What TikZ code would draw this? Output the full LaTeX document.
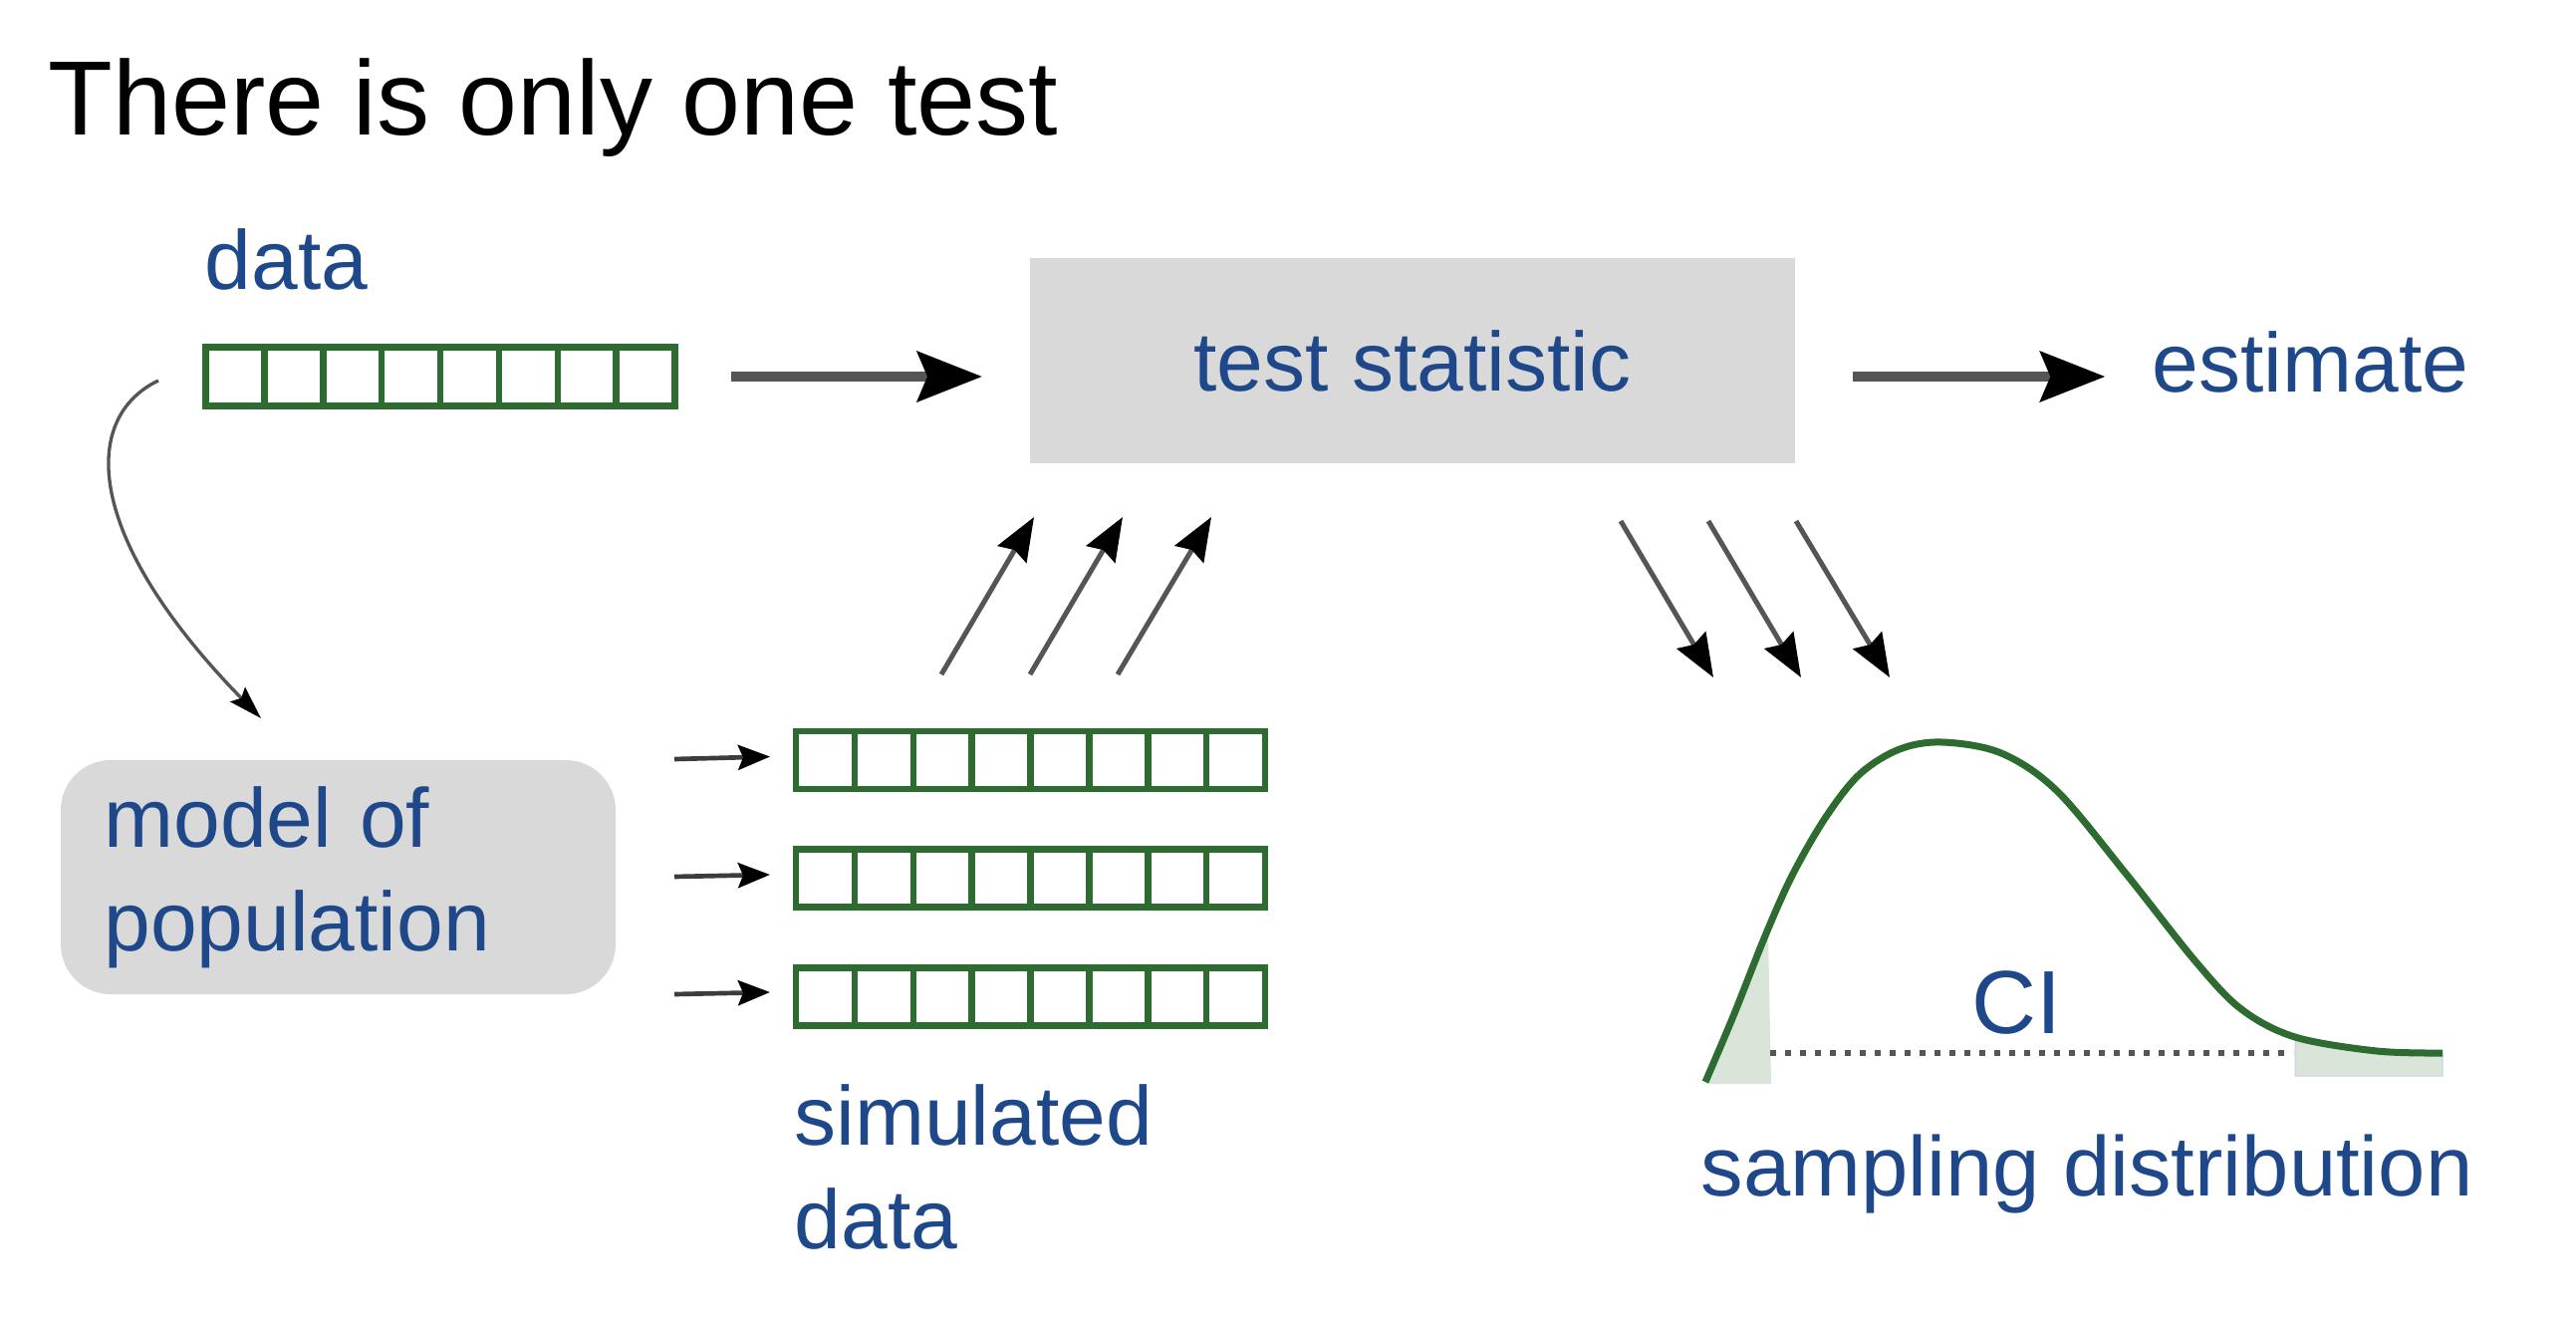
\documentclass[tikz,border=0pt]{standalone}
\usepackage{fontspec}
\setmainfont{Liberation Sans}
\usetikzlibrary{arrows.meta,calc}
\definecolor{tblue}{RGB}{30,72,138}
\definecolor{bargreen}{RGB}{46,107,48}
\definecolor{boxgray}{RGB}{217,217,217}
\definecolor{shaftgray}{RGB}{85,85,85}
\definecolor{tailfill}{RGB}{217,229,217}
\definecolor{tailedge}{RGB}{200,205,240}
\newcommand\bardividers[1]{%
  \foreach \k in {1,...,7}{%
    \draw[bargreen, line width=1.95pt] ($(#1.south west)!\k/8!(#1.south east)$) -- ($(#1.north west)!\k/8!(#1.north east)$);}}
\begin{document}
\begin{tikzpicture}[x=0.3pt,y=-0.3pt,
  lbl/.style={text=tblue, font=\fontsize{25.2}{31.2}\selectfont, inner sep=0pt},
  cellbar/.style={draw=bargreen, line width=1.95pt, minimum width=141.3pt, minimum height=17.7pt, inner sep=0pt, outer sep=0pt},
  bigarrow/.style={draw=shaftgray, line width=3pt, -{Stealth[length=19.5pt,width=15pt,inset=3pt,black]}},
  midarrow/.style={draw=shaftgray, line width=1.5pt, -{Stealth[length=13pt,width=10pt,inset=1.5pt,black]}},
  smallarrow/.style={draw=shaftgray!70!black, line width=1.4pt, -{Stealth[length=9.6pt,width=7.5pt,inset=1.5pt,black]}},
  curvearrow/.style={draw=shaftgray, line width=1pt, -{Stealth[length=10pt,width=6.2pt,inset=1.5pt,black]}},
  graybox/.style={fill=boxgray, inner sep=0pt, outer sep=0pt, text=tblue, font=\fontsize{25.2}{31.2}\selectfont},
]
\useasboundingbox (0,0) rectangle (2586,1324);

% title
\node[anchor=base west, inner sep=0pt, font=\fontsize{31.8}{38}\selectfont] (title) at (48,135) {There is only one test};

% data
\node[lbl, anchor=base west] (datalbl) at (205,290) {data};
\node[cellbar] (databar) at (442,378) {};
\bardividers{databar}

% test statistic
\node[graybox, minimum width=230.4pt, minimum height=61.8pt] (tstat) at (1418,362) {test statistic};
\node[lbl, anchor=base west] (est) at (2160,393) {estimate};

\draw[bigarrow, shorten <=17pt, shorten >=14.4pt] (databar.east) -- (databar.east -| tstat.west);
\draw[bigarrow, shorten <=17.4pt, shorten >=14pt] (databar.east -| tstat.east) -- (databar.east -| est.west);

% model of population
\node[graybox, rounded corners=15pt, text width=141.1pt, inner xsep=13pt, minimum height=70.5pt, align=left] (model) at (339.5,880.5) {model of\\population};

\coordinate (cstart) at (159,382);
\coordinate (cend) at (262,721);
\draw[curvearrow] (cstart) .. controls (80,420) and (85,540) .. (cend);

% simulated data
\node[cellbar, minimum height=17.4pt] (simbar1) at (1034.5,763) {};
\node[cellbar, minimum height=17.4pt] (simbar2) at (1034.5,881.5) {};
\node[cellbar, minimum height=17.4pt] (simbar3) at (1034.5,1000.5) {};
\bardividers{simbar1}
\bardividers{simbar2}
\bardividers{simbar3}
\node[lbl, align=left, anchor=north west] (simlbl) at (797,1088) {simulated\\data};

\coordinate (s1) at (677,762);
\coordinate (s2) at (677,880);
\coordinate (s3) at (677,998);
\draw[smallarrow] (s1) -- ($(simbar1.west)+(-26,-3.5)$);
\draw[smallarrow] (s2) -- ($(simbar2.west)+(-26,-3.5)$);
\draw[smallarrow] (s3) -- ($(simbar3.west)+(-26,-4.5)$);

% arrows up
\coordinate (u1a) at (945,677);  \coordinate (u1b) at (1038,519);
\coordinate (u2a) at (1034,677); \coordinate (u2b) at (1127,519);
\coordinate (u3a) at (1122,677); \coordinate (u3b) at (1216,519);
\draw[midarrow] (u1a) -- (u1b);
\draw[midarrow] (u2a) -- (u2b);
\draw[midarrow] (u3a) -- (u3b);

% arrows down
\coordinate (d1a) at (1627,523); \coordinate (d1b) at (1720,680);
\coordinate (d2a) at (1715,523); \coordinate (d2b) at (1808,680);
\coordinate (d3a) at (1803,523); \coordinate (d3b) at (1897,680);
\draw[midarrow] (d1a) -- (d1b);
\draw[midarrow] (d2a) -- (d2b);
\draw[midarrow] (d3a) -- (d3b);

% sampling distribution
\fill[tailfill] (1712,1088) -- (1740,1020) -- (1775,936) -- (1778,1088) -- cycle;
\filldraw[fill=tailfill, draw=tailedge, line width=0.3pt] (2304,1041) .. controls (2340,1052) and (2400,1057) .. (2452,1057) -- (2452,1080) -- (2304,1080) -- cycle;
\coordinate (ci1) at (1777,1057);
\coordinate (ci2) at (2302,1057);
\draw[shaftgray, line width=1.8pt, dash pattern=on 1.8pt off 2.7pt] (ci1) -- (ci2);
\draw[bargreen, line width=2.1pt] plot[smooth, tension=0.55] coordinates {(1712,1086) (1740,1020) (1773,937) (1800,877) (1833,820) (1867,777) (1907,752) (1950,745) (2009,756) (2065,794) (2135,878) (2204,965) (2250,1013) (2304,1041) (2386,1055) (2452,1057)};
\node[lbl, font=\fontsize{27}{32}\selectfont, anchor=base] (cilbl) at (2024,1037) {CI};
\node[lbl, font=\fontsize{25.5}{31.2}\selectfont, anchor=base west] (samplbl) at (1707,1200) {sampling distribution};
\end{tikzpicture}
\end{document}
